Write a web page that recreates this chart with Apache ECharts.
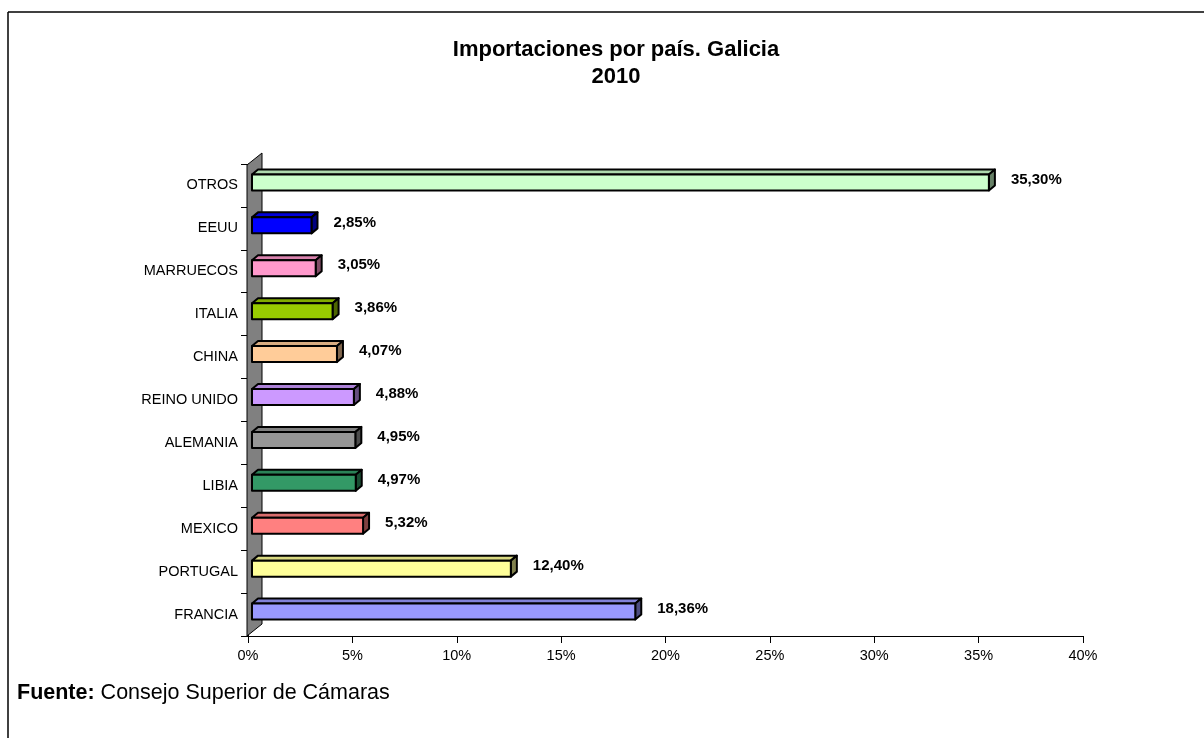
<!DOCTYPE html>
<html>
<head>
<meta charset="utf-8">
<script src="https://cdn.jsdelivr.net/npm/echarts@6/dist/echarts.min.js"></script>
<style>html,body{margin:0;padding:0;background:#fff}#c{width:1204px;height:738px}</style>
</head>
<body>
<div id="c"></div>
<script>
const categories = ['FRANCIA','PORTUGAL','MEXICO','LIBIA','ALEMANIA','REINO UNIDO','CHINA','ITALIA','MARRUECOS','EEUU','OTROS'];
const values = [18.36, 12.40, 5.32, 4.97, 4.95, 4.88, 4.07, 3.86, 3.05, 2.85, 35.30];
const colors = ['#9999FF','#FFFF99','#FF8080','#339966','#969696','#CC99FF','#FFCC99','#99CC00','#FF99CC','#0000FF','#CCFFCC'];
const xTicks = [0, 5, 10, 15, 20, 25, 30, 35, 40];

function shade(hex, f) {
  const n = parseInt(hex.slice(1), 16);
  const r = Math.round(((n >> 16) & 255) * f), g = Math.round(((n >> 8) & 255) * f), b = Math.round((n & 255) * f);
  return 'rgb(' + r + ',' + g + ',' + b + ')';
}
const FONT = 'Liberation Sans, Arial, sans-serif';
const chart = echarts.init(document.getElementById('c'));
const DX = 6, DY = -5, H = 16, OX = 4, OY = -3;

chart.setOption({
  animation: false,
  title: {
    text: 'Importaciones por país. Galicia\n2010',
    left: 611, top: 31, textAlign: 'center',
    textStyle: { fontFamily: FONT, fontSize: 22, fontWeight: 'bold', color: '#000', lineHeight: 27 }
  },
  grid: { left: 248, right: 121, top: 164, bottom: 102 },
  xAxis: {
    type: 'value', min: xTicks[0], max: xTicks[xTicks.length - 1], interval: 5,
    axisLine: { show: true, lineStyle: { color: '#000', width: 1 } },
    axisTick: { show: true, length: 7, lineStyle: { color: '#000' } },
    splitLine: { show: false },
    axisLabel: { margin: 12, color: '#000', fontFamily: FONT, fontSize: 14.5, formatter: v => v + '%' }
  },
  yAxis: {
    type: 'category', data: categories,
    axisLine: { show: true, lineStyle: { color: '#000', width: 1 } },
    axisTick: { show: true, length: 7, lineStyle: { color: '#000' } },
    axisLabel: { margin: 10, color: '#000', fontFamily: FONT, fontSize: 14.5 }
  },
  graphic: [
    { type: 'line', shape: { x1: 8, y1: 12, x2: 1204, y2: 12 }, style: { stroke: '#000', lineWidth: 1.5 } },
    { type: 'line', shape: { x1: 8, y1: 12, x2: 8, y2: 738 }, style: { stroke: '#000', lineWidth: 1.5 } },
    { type: 'text', x: 17, y: 693, style: {
        text: '{b|Fuente:} Consejo Superior de Cámaras',
        font: '21.5px ' + FONT, fill: '#000', verticalAlign: 'middle',
        rich: { b: { fontWeight: 'bold', fontSize: 21.5, fontFamily: FONT } }
    } }
  ],
  series: [
    {
      type: 'custom', z: 1,
      data: [[0, 0]],
      renderItem: function (params, api) {
        const cs = params.coordSys;
        const x = cs.x - 1, yb = cs.y + cs.height, yt = cs.y + 1;
        return {
          type: 'polygon',
          shape: { points: [[x, yb], [x, yt], [x + 15, yt - 12], [x + 15, yb - 12]] },
          style: { fill: '#808080', stroke: '#000', lineWidth: 1 }
        };
      }
    },
    {
      type: 'custom', z: 3,
      data: values.map((v, i) => [v, i]),
      renderItem: function (params, api) {
        const v = api.value(0), i = api.value(1);
        const p0 = api.coord([0, i]), p1 = api.coord([v, i]);
        const x0 = p0[0] + OX, x1 = p1[0] + OX, yc = p0[1] + OY;
        const yt = yc - H / 2, yb = yc + H / 2;
        const c = colors[i];
        const st = { stroke: '#000', lineWidth: 2, lineJoin: 'round' };
        return {
          type: 'group',
          children: [
            { type: 'polygon', shape: { points: [[x0, yt], [x0 + DX, yt + DY], [x1 + DX, yt + DY], [x1, yt]] },
              style: Object.assign({ fill: shade(c, 0.85) }, st) },
            { type: 'polygon', shape: { points: [[x1, yt], [x1 + DX, yt + DY], [x1 + DX, yb + DY], [x1, yb]] },
              style: Object.assign({ fill: shade(c, 0.5) }, st) },
            { type: 'rect', shape: { x: x0, y: yt, width: x1 - x0, height: H },
              style: Object.assign({ fill: c }, st) },
            { type: 'text', x: x1 + 22, y: yc - 3,
              style: { text: v.toFixed(2).replace('.', ',') + '%', font: 'bold 15px ' + FONT,
                       fill: '#000', verticalAlign: 'middle', align: 'left' } }
          ]
        };
      }
    }
  ]
});
</script>
</body>
</html>
